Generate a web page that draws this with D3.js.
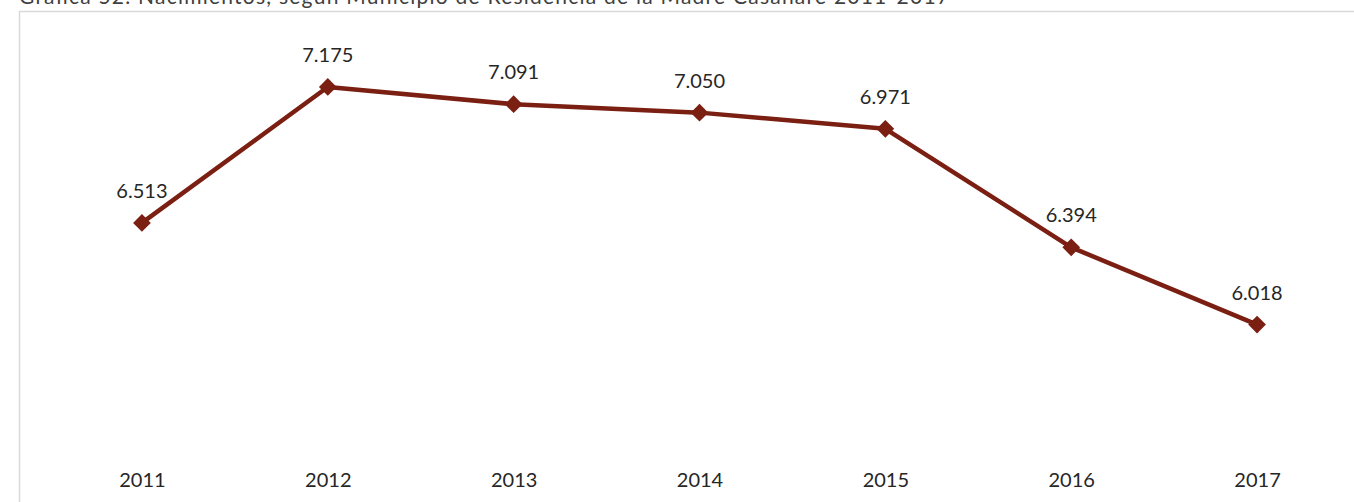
<!DOCTYPE html>
<html>
<head>
<meta charset="utf-8">
<script src="https://cdn.jsdelivr.net/npm/d3@7"></script>
<style>
  html, body { margin: 0; padding: 0; background: #fff; }
  svg { display: block; }
  text { font-family: "Lato", "Open Sans", sans-serif; }
</style>
</head>
<body>
<script>
const title = "Gráfica 52. Nacimientos, según Municipio de Residencia de la Madre Casanare 2011-2017";
const years = ["2011", "2012", "2013", "2014", "2015", "2016", "2017"];
const births = [6513, 7175, 7091, 7050, 6971, 6394, 6018];
const valueLabels = ["6.513", "7.175", "7.091", "7.050", "6.971", "6.394", "6.018"];

const W = 1354, H = 502;
const svg = d3.select("body").append("svg").attr("width", W).attr("height", H);

svg.append("text")
  .attr("x", 19).attr("y", 4)
  .attr("font-size", 21)
  .attr("fill", "#404040")
  .attr("textLength", 930)
  .attr("lengthAdjust", "spacing")
  .text(title);

svg.append("rect")
  .attr("x", 19.5).attr("y", 11.5)
  .attr("width", 1345).attr("height", 500)
  .attr("fill", "none")
  .attr("stroke", "#d9d9d9")
  .attr("stroke-width", 1.5);

const x = d3.scalePoint().domain(years).range([49, 1350]).padding(0.5);
const y = d3.scaleLinear().domain([5500, 7500]).range([431.0, 20.2]);

const xAxis = d3.axisBottom(x).tickSize(0).tickPadding(0);
const gx = svg.append("g").attr("transform", "translate(0,472)").call(xAxis);
gx.select(".domain").remove();
gx.selectAll("text")
  .attr("font-size", 20)
  .attr("fill", "#262626")
  .attr("dy", "0.76em")
  .style("font-family", "Lato, 'Open Sans', sans-serif");

const data = years.map((yr, i) => ({ yr, v: births[i], lab: valueLabels[i] }));

svg.append("path")
  .datum(data)
  .attr("fill", "none")
  .attr("stroke", "#7a1f12")
  .attr("stroke-width", 4.5)
  .attr("stroke-linejoin", "round")
  .attr("d", d3.line().x(d => x(d.yr)).y(d => y(d.v)));

svg.selectAll(".mk")
  .data(data)
  .enter().append("path")
  .attr("class", "mk")
  .attr("transform", d => `translate(${x(d.yr)},${y(d.v)})`)
  .attr("d", d3.symbol(d3.symbolDiamond2, 200)())
  .attr("fill", "#7a1f12");

svg.selectAll(".lbl")
  .data(data)
  .enter().append("text")
  .attr("class", "lbl")
  .attr("x", d => x(d.yr))
  .attr("y", d => y(d.v) - 25)
  .attr("text-anchor", "middle")
  .attr("font-size", 20)
  .attr("fill", "#262626")
  .text(d => d.lab);
</script>
</body>
</html>
